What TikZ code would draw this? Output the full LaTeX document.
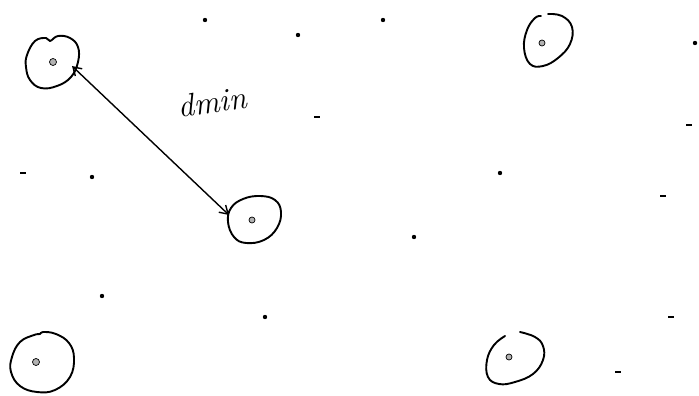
\documentclass[tikz,border=0pt]{standalone}
\usetikzlibrary{arrows.meta}
\begin{document}
\begin{tikzpicture}[x=1pt,y=-1pt,
  blob/.style={line width=1.9pt, line join=round, line cap=round},
  core/.style={draw=black, line width=0.7pt, fill=gray!60},
  speck/.style={fill=black},
  tick/.style={line width=2.4pt}]
\useasboundingbox (0,0) rectangle (699,396);
% cells
\draw[blob] plot[smooth cycle, tension=0.7] coordinates {(27,55) (35,41) (46,38) (50,41) (58,36) (70,38) (78,47) (78,62) (71,77) (57,86) (41,88) (30,80) (26,67)};
\node[core, circle, inner sep=0pt, minimum size=7pt] (c1) at (53,62) {};
\draw[blob] plot[smooth cycle, tension=0.7] coordinates {(231,208) (243,199) (260,196) (275,200) (281,212) (277,228) (264,240) (246,243) (234,237) (228,222)};
\node[core, circle, inner sep=0pt, minimum size=6pt] (c2) at (252,220) {};
\draw[blob] plot[smooth, tension=0.7] coordinates {(548,14) (562,16) (572,27) (570,44) (558,58) (543,66) (530,64) (524,48) (527,30) (535,18) (541,16)};
\node[core, circle, inner sep=0pt, minimum size=6pt] (c3) at (542,43) {};
\draw[blob] plot[smooth cycle, tension=0.7] coordinates {(12,357) (20,342) (34,335) (40,334) (43,332) (56,334) (69,343) (74,358) (70,377) (55,390) (37,392) (20,386) (11,372)};
\node[core, circle, inner sep=0pt, minimum size=7pt] (c4) at (36,362) {};
\draw[blob] plot[smooth, tension=0.7] coordinates {(520,332) (535,337) (543,346) (543,360) (533,374) (515,382) (499,384) (488,377) (487,360) (494,345) (505,336)};
\node[core, circle, inner sep=0pt, minimum size=6pt] (c5) at (509,357) {};
% distance arrow
\coordinate (a1) at (72,66);
\coordinate (a2) at (229,215);
\draw[line width=1.4pt, {Straight Barb[length=8pt,width=10pt]}-{Straight Barb[length=8pt,width=10pt]}] (a1) -- (a2);
\node[font=\fontsize{32}{32}\selectfont\itshape, rotate=8, inner sep=0pt] (lbl) at (212,102) {dmin};
% specks
\foreach \x/\y in {205/20, 298/35, 383/20, 695/43, 92/177, 500/173, 414/237, 102/296, 265/317}
  \fill[speck] (\x,\y) circle (2.2pt);
\foreach \x/\y in {317/117, 689/125, 23/173, 663/196, 671/317, 618/372}
  \draw[tick] (\x-3,\y) -- (\x+3,\y);
\end{tikzpicture}
\end{document}
